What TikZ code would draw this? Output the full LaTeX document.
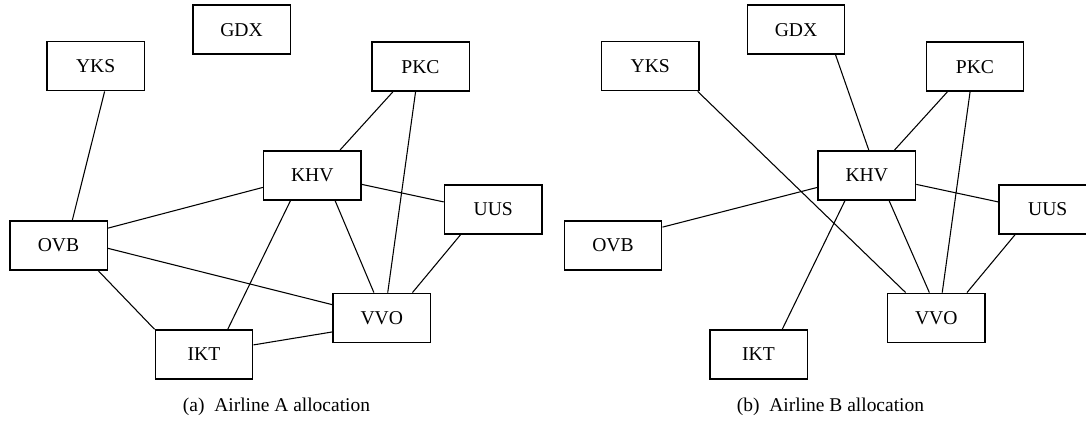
\documentclass[tikz,border=0pt]{standalone}
\usepackage{fontspec}
\setmainfont{Liberation Serif}
\usetikzlibrary{calc}
\tikzset{
  apt/.style={draw, line width=1.1pt, minimum width=73.1pt, minimum height=36.75pt, inner sep=0pt,
    font=\fontsize{14.7pt}{16pt}\selectfont},
  link/.style={line width=0.8pt},
  capt/.style={anchor=base, inner sep=0pt, font=\fontsize{14.6pt}{16pt}\selectfont}
}
\begin{document}
\begin{tikzpicture}[x=0.75pt, y=-0.75pt]
\useasboundingbox (0,0) rectangle (1086,421);
\clip (0,0) rectangle (1086,421);
% ---------- panel (a) ----------
\node[apt] (aGDX) at (241.5,29.7) {GDX};
\node[apt] (aYKS) at (95.7,66.2) {YKS};
\node[apt] (aPKC) at (420.5,66.7) {PKC};
\node[apt] (aKHV) at (312.3,175.3) {KHV};
\node[apt] (aUUS) at (493.2,209.5) {UUS};
\node[apt] (aOVB) at (58.5,245.3) {OVB};
\node[apt] (aVVO) at (381.8,317.8) {VVO};
\node[apt] (aIKT) at (204,354.5) {IKT};
\node[capt] (capA) at (276.5,411.5) {(a)\ \ Airline A allocation};

\draw[link] ($(aYKS.south west)!0.59!(aYKS.south east)$) -- ($(aOVB.north west)!0.64!(aOVB.north east)$);
\draw[link] ($(aPKC.south west)!0.22!(aPKC.south east)$) -- ($(aKHV.north west)!0.78!(aKHV.north east)$);
\draw[link] ($(aPKC.south west)!0.45!(aPKC.south east)$) -- ($(aVVO.north west)!0.56!(aVVO.north east)$);
\draw[link] ($(aKHV.north west)!0.74!(aKHV.south west)$) -- ($(aOVB.north east)!0.16!(aOVB.south east)$);
\draw[link] ($(aKHV.north east)!0.68!(aKHV.south east)$) -- ($(aUUS.north west)!0.35!(aUUS.south west)$);
\draw[link] ($(aKHV.south west)!0.28!(aKHV.south east)$) -- ($(aIKT.north west)!0.74!(aIKT.north east)$);
\draw[link] ($(aKHV.south west)!0.73!(aKHV.south east)$) -- ($(aVVO.north west)!0.42!(aVVO.north east)$);
\draw[link] ($(aUUS.south west)!0.17!(aUUS.south east)$) -- ($(aVVO.north west)!0.81!(aVVO.north east)$);
\draw[link] ($(aOVB.north east)!0.56!(aOVB.south east)$) -- ($(aVVO.north west)!0.24!(aVVO.south west)$);
\draw[link] ($(aOVB.south west)!0.9!(aOVB.south east)$) -- (aIKT.north west);
\draw[link] ($(aIKT.north east)!0.31!(aIKT.south east)$) -- ($(aVVO.north west)!0.78!(aVVO.south west)$);

% ---------- panel (b) ----------
\node[apt] (bGDX) at (796.0,29.7) {GDX};
\node[apt] (bYKS) at (650.2,66.2) {YKS};
\node[apt] (bPKC) at (975.0,66.7) {PKC};
\node[apt] (bKHV) at (866.8,175.3) {KHV};
\node[apt] (bUUS) at (1047.7,209.5) {UUS};
\node[apt] (bOVB) at (613.0,245.3) {OVB};
\node[apt] (bVVO) at (936.3,317.8) {VVO};
\node[apt] (bIKT) at (758.5,354.5) {IKT};
\node[capt] (capB) at (830.5,411.5) {(b)\ \ Airline B allocation};

\draw[link] ($(bGDX.south west)!0.9!(bGDX.south east)$) -- ($(bKHV.north west)!0.52!(bKHV.north east)$);
\draw[link] ($(bYKS.south west)!0.98!(bYKS.south east)$) -- ($(bVVO.north west)!0.19!(bVVO.north east)$);
\draw[link] ($(bPKC.south west)!0.22!(bPKC.south east)$) -- ($(bKHV.north west)!0.78!(bKHV.north east)$);
\draw[link] ($(bPKC.south west)!0.45!(bPKC.south east)$) -- ($(bVVO.north west)!0.56!(bVVO.north east)$);
\draw[link] ($(bKHV.north west)!0.74!(bKHV.south west)$) -- ($(bOVB.north east)!0.14!(bOVB.south east)$);
\draw[link] ($(bKHV.north east)!0.68!(bKHV.south east)$) -- ($(bUUS.north west)!0.35!(bUUS.south west)$);
\draw[link] ($(bKHV.south west)!0.28!(bKHV.south east)$) -- ($(bIKT.north west)!0.74!(bIKT.north east)$);
\draw[link] ($(bKHV.south west)!0.725!(bKHV.south east)$) -- ($(bVVO.north west)!0.43!(bVVO.north east)$);
\draw[link] ($(bUUS.south west)!0.17!(bUUS.south east)$) -- ($(bVVO.north west)!0.81!(bVVO.north east)$);
\end{tikzpicture}
\end{document}
